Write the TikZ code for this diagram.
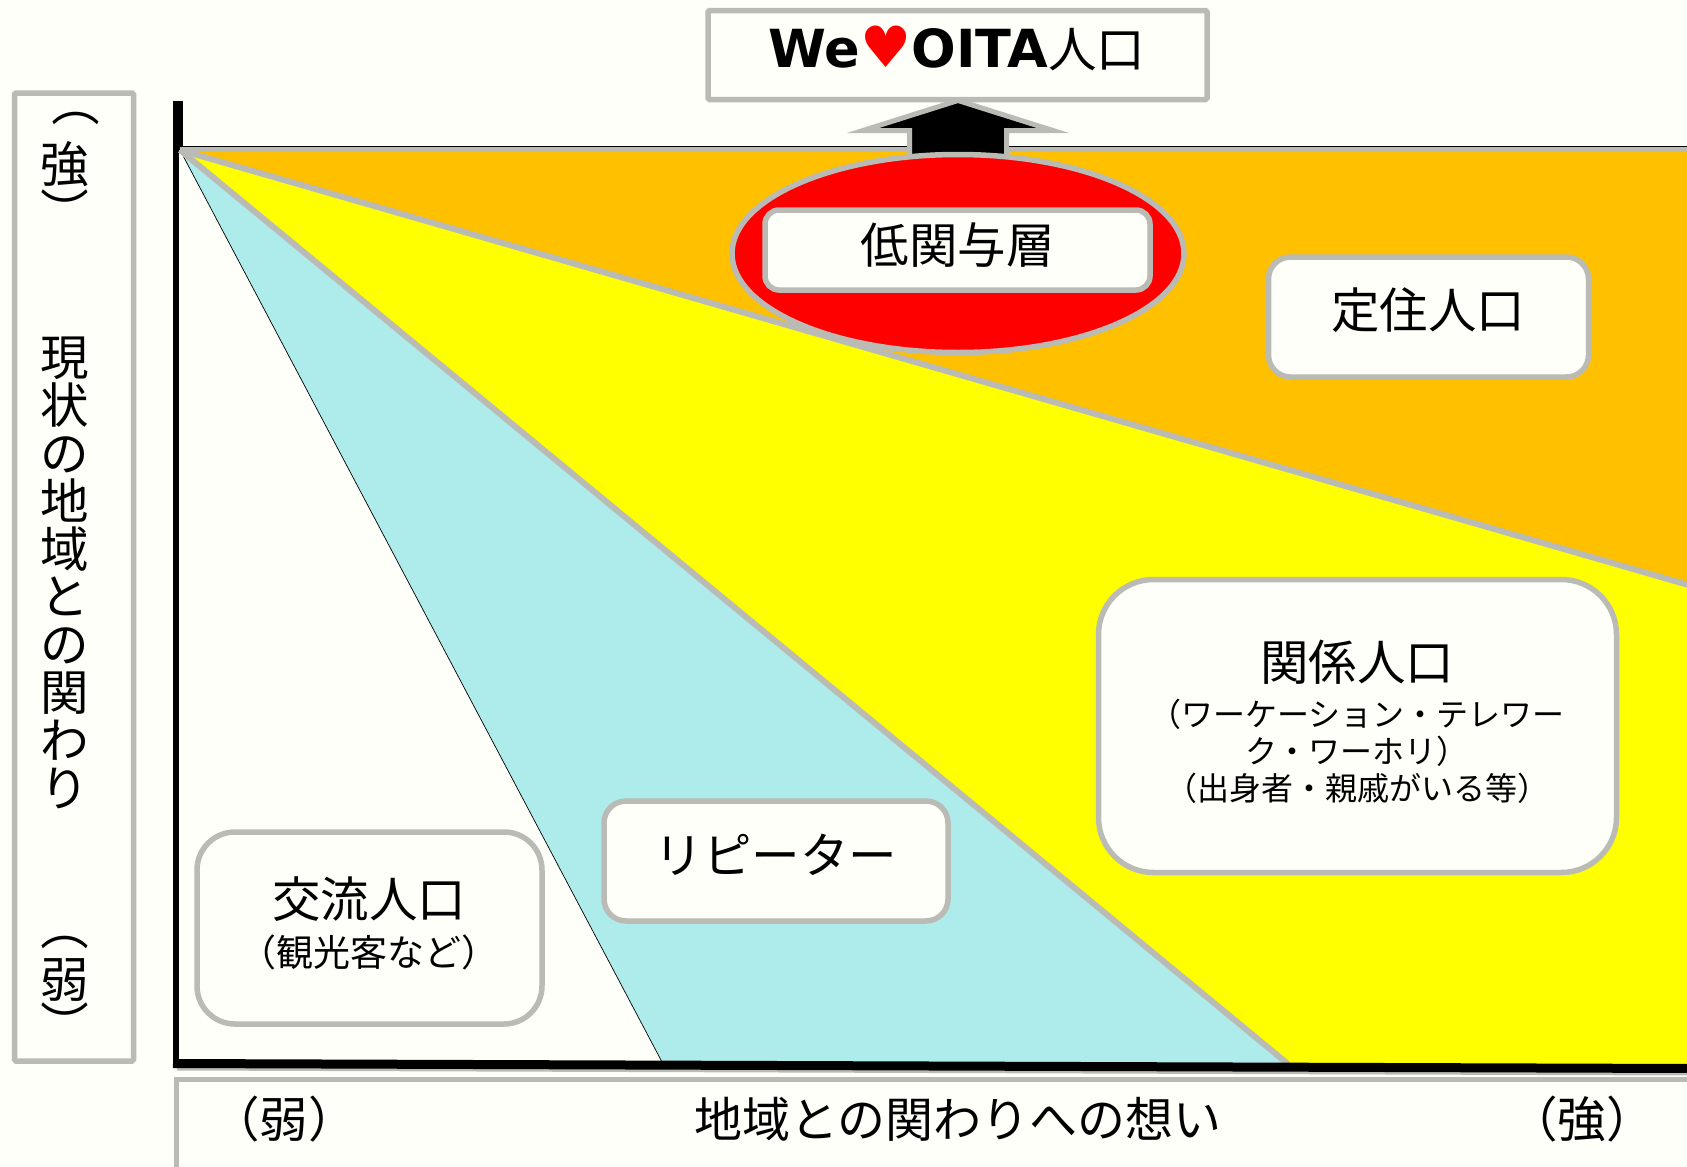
\documentclass[tikz,border=0pt]{standalone}
\usepackage{fontspec}
\usepackage{graphicx}
\setmainfont{Noto Sans CJK JP}
\newfontfamily\latinb{DejaVu Sans}
\definecolor{paper}{HTML}{FFFFFA}
\definecolor{edge}{HTML}{BBBBB5}
\definecolor{orangefill}{HTML}{FFC000}
\definecolor{cyanfill}{HTML}{AEEBEB}
\definecolor{yellowfill}{HTML}{FFFF00}
\newcommand{\bigjp}{\fontsize{48.5}{50}\selectfont}
\newcommand{\smalljp}{\fontsize{32}{37}\selectfont}
\newcommand{\turnL}[1]{\rotatebox[origin=c]{-90}{#1}}
\tikzset{
  panel/.style={draw=edge,line width=5.5pt,fill=paper,inner sep=0pt,outer sep=0pt,text=black,align=center},
  square/.style={panel,rounded corners=1.5pt},
  wedge/.style={draw=edge,line width=6pt,line join=round},
  label/.style={inner sep=0pt,outer sep=0pt,font=\bigjp,align=center}
}
\begin{document}
\begin{tikzpicture}[x=1pt,y=-1pt]
\useasboundingbox (0,0) rectangle (1687,1167);
\clip (0,0) rectangle (1687,1167);
\fill[paper] (0,0) rectangle (1687,1167);
\coordinate (apex) at (180,150);
\coordinate (tr) at (1692,150);
\coordinate (rmid) at (1692,586);
\coordinate (br) at (1692,1068);
\coordinate (bmid) at (1288,1064);
\coordinate (bleft) at (662,1062);
% axes
\fill[black] (173,101) rectangle (183,150);
\fill[black] (173,150) rectangle (179,1068);
% regions
\fill[orangefill] (apex) -- (tr) -- (rmid) -- cycle;
\fill[yellowfill] (apex) -- (rmid) -- (br) -- (bmid) -- cycle;
\fill[cyanfill] (apex) -- (bmid) -- (bleft) -- cycle;
\fill[paper] (179,150) -- (bleft) -- (179,1062) -- cycle;
\draw[black,line width=0.7pt] (apex) -- (bleft);
\draw[black,line width=1pt] ([yshift=3.5pt]apex) -- ([yshift=3.5pt]tr);
\draw[wedge,line width=5pt] ([yshift=.5pt]apex) -- ([yshift=.5pt]tr);
\draw[wedge] (apex) -- (rmid);
\draw[wedge] (apex) -- (bmid);
% bottom axis
\draw[edge,line width=9pt] (177,1066) -- (1692,1071);
\draw[black,line width=9pt] (173,1063.5) -- (1692,1068.5);
% arrow
\draw[draw=edge,line width=5pt,fill=black,miter limit=10] (958,100.5) -- (1053,130.5) -- (1006.5,130.5) -- (1006.5,175) -- (909.5,175) -- (909.5,130.5) -- (863,130.5) -- cycle;
% title
\node[square,minimum width=499pt,minimum height=89pt] (title) at (957.5,55) {};
\node[label] (titletext) at (957,48) {{\latinb\fontsize{52.5}{54}\selectfont\bfseries We\textcolor{red}{\fontsize{57}{54}\selectfont ♥}OITA}人口};
% ellipse
\draw[draw=edge,line width=5.5pt,fill=red] (958,253.5) ellipse (226pt and 99pt);
\node[panel,rounded corners=14pt,minimum width=385pt,minimum height=80pt] (low) at (957.5,250) {};
\node[label] (lowtext) at (957.5,245) {低関与層};
% boxes
\node[panel,rounded corners=22pt,minimum width=320pt,minimum height=120pt] (teiju) at (1428.5,317) {};
\node[label] (teijutext) at (1428,310.5) {定住人口};
\node[panel,rounded corners=55pt,minimum width=518pt,minimum height=293pt] (kankei) at (1357.5,726) {};
\node[label] (kankeitext) at (1357,722) {{\bigjp 関係人口}\\[-4pt]{\smalljp （ワーケーション・テレワー}\\[-13pt]{\smalljp ク・ワーホリ）}\\[-13pt]{\smalljp （出身者・親戚がいる等）}};
\node[panel,rounded corners=22pt,minimum width=344pt,minimum height=120pt] (repeater) at (776,861) {};
\node[label] (repeatertext) at (776,855) {リピーター};
\node[panel,rounded corners=38pt,minimum width=345pt,minimum height=192pt] (koryu) at (369.5,928) {};
\node[label] (koryutext) at (369,923.5) {{\bigjp 交流人口}\\[-1pt]{\fontsize{37}{37}\selectfont （観光客など）}};
% left panel
\node[square,minimum width=119pt,minimum height=968pt] (ybox) at (74,577) {};
\node[label] (ystrong) at (65,157) {\hspace{22pt}\turnL{（}\\[12pt]強\\[-3pt]\turnL{）}};
\node[label,text width=60pt,font=\fontsize{48.5}{47.8}\selectfont] (ytext) at (65,573) {現\\状\\の\\地\\域\\と\\の\\関\\わ\\り};
\node[label] (yweak) at (65,975.5) {\turnL{（}\\[3pt]弱\\[-5pt]\turnL{）}};
% bottom panel
\node[panel,anchor=north west,minimum width=1600pt,minimum height=120pt] (xbox) at (176.5,1079.5) {};
\node[label] (xweak) at (284,1119) {（弱）};
\node[label,font=\fontsize{48}{50}\selectfont] (xtext) at (958,1119) {地域との関わりへの想い};
\node[label] (xstrong) at (1582,1119) {（強）};
\end{tikzpicture}
\end{document}
